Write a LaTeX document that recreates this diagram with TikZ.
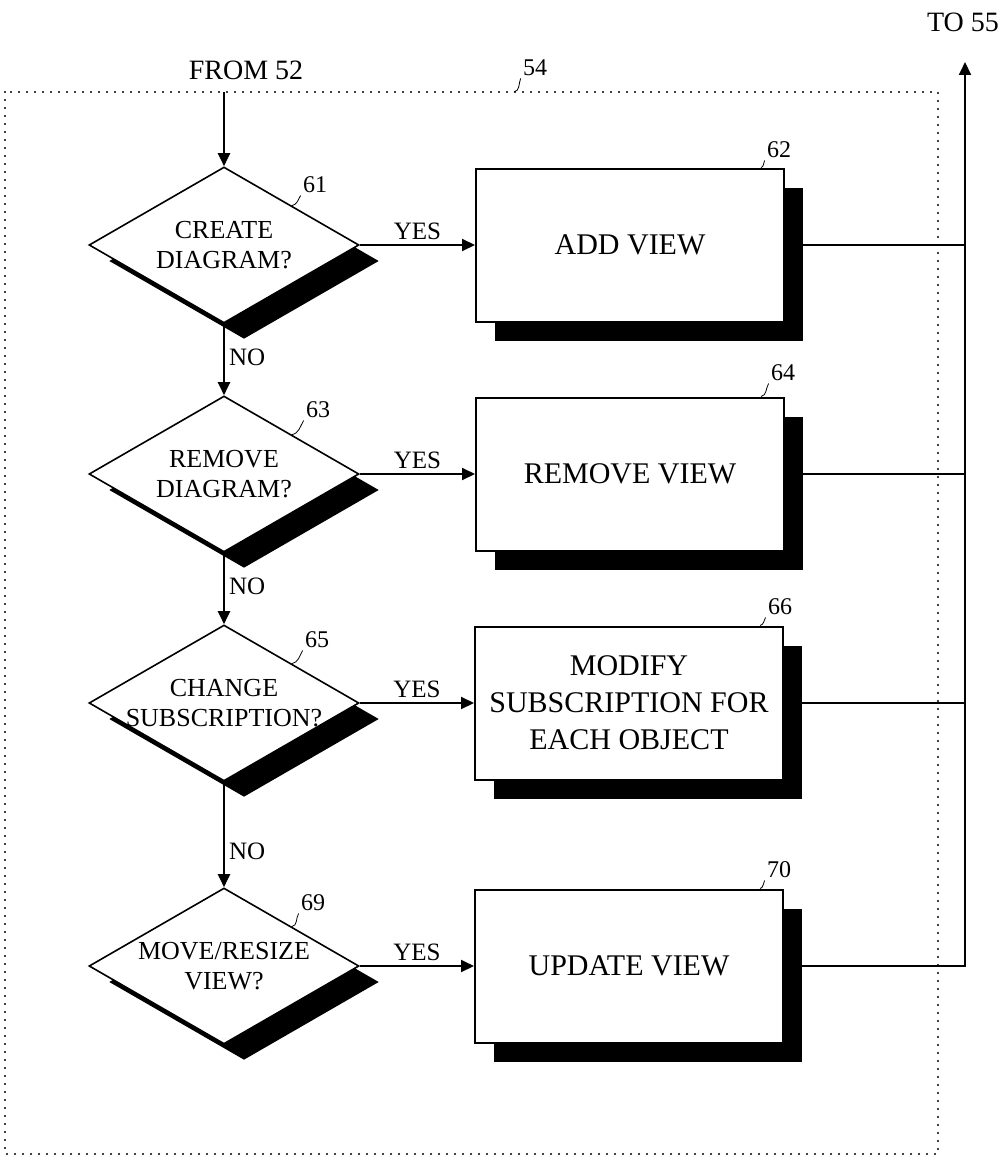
\documentclass[tikz,border=0pt]{standalone}
\usepackage{fontspec}
\setmainfont{Liberation Serif}
\usetikzlibrary{shapes.geometric,shadows,arrows.meta}

\begin{document}
\begin{tikzpicture}[x=0.5pt,y=-0.5pt,
  flow/.style={-{Triangle[length=6.5pt,width=6pt]},line width=1pt},
  wire/.style={line width=1pt},
  frame/.style={line width=1.2pt,line cap=round,dash pattern=on 0pt off 4pt},
  test/.style={diamond,draw=black,line width=0.8pt,fill=white,aspect=1.73,
    minimum width=135pt,minimum height=78pt,inner sep=0pt,align=center,
    font=\fontsize{13}{15}\selectfont,
    drop shadow={shadow xshift=10pt,shadow yshift=-8pt,fill=black,opacity=1}},
  task/.style={rectangle,draw=black,line width=1pt,fill=white,
    minimum width=154pt,minimum height=76.5pt,align=center,
    font=\fontsize{15}{18.5}\selectfont,
    drop shadow={shadow xshift=9.5pt,shadow yshift=-9.5pt,fill=black,opacity=1}},
  answer/.style={font=\fontsize{12.5}{14}\selectfont,inner sep=2pt},
  refnum/.style={font=\fontsize{12}{14}\selectfont,inner sep=1pt},
  endtext/.style={font=\fontsize{14}{16}\selectfont}]

\useasboundingbox (0,0) rectangle (1006,1161);
\draw[frame] (5,92) rectangle (938,1154);

\node[endtext] (from52) at (246,70) {FROM 52};
\node[endtext] (to55) at (963,22) {TO 55};
\coordinate (entry) at (224,92);
\coordinate (top) at (965,62);
\coordinate (c54) at (514,92);

\node[test] (d1) at (224,245) {CREATE\\DIAGRAM?};
\node[test] (d2) at (224,474) {REMOVE\\DIAGRAM?};
\node[test,inner xsep=-6pt] (d3) at (224,703) {CHANGE\\SUBSCRIPTION?};
\node[test] (d4) at (224,966) {MOVE/RESIZE\\VIEW?};

\node[task] (b1) at (630,245) {ADD VIEW};
\node[task] (b2) at (630,474) {REMOVE VIEW};
\node[task] (b3) at (629,703) {MODIFY\\SUBSCRIPTION FOR\\EACH OBJECT};
\node[task] (b4) at (629,966) {UPDATE VIEW};

\node[refnum] (l54) at (535,68) {54};
\node[refnum] (l61) at (315,185) {61};
\node[refnum] (l63) at (318,410) {63};
\node[refnum] (l65) at (317,640) {65};
\node[refnum] (l69) at (313,903) {69};
\node[refnum] (l62) at (779,150) {62};
\node[refnum] (l64) at (783,373) {64};
\node[refnum] (l66) at (780,607) {66};
\node[refnum] (l70) at (779,870) {70};

\draw (c54) to[out=10,in=-110] (l54.south west);
\draw (d1.north east) to[out=10,in=-120] (l61.south west);
\draw (d2.north east) to[out=10,in=-120] (l63.south west);
\draw (d3.north east) to[out=10,in=-120] (l65.south west);
\draw (d4.north east) to[out=10,in=-120] (l69.south west);
\draw ([xshift=-12pt]b1.north east) to[out=10,in=-120] (l62.south west);
\draw ([xshift=-12pt]b2.north east) to[out=10,in=-120] (l64.south west);
\draw ([xshift=-12pt]b3.north east) to[out=10,in=-120] (l66.south west);
\draw ([xshift=-12pt]b4.north east) to[out=10,in=-120] (l70.south west);

\draw[flow] (entry) -- (d1.north);
\draw[flow] (d1.south) -- node[answer,right,pos=0.47] (no1) {NO} (d2.north);
\draw[flow] (d2.south) -- node[answer,right,pos=0.47] (no2) {NO} (d3.north);
\draw[flow] (d3.south) -- node[answer,right,pos=0.66] (no3) {NO} (d4.north);

\draw[flow] (d1.east) -- node[answer,above] (yes1) {YES} (b1.west);
\draw[flow] (d2.east) -- node[answer,above] (yes2) {YES} (b2.west);
\draw[flow] (d3.east) -- node[answer,above] (yes3) {YES} (b3.west);
\draw[flow] (d4.east) -- node[answer,above] (yes4) {YES} (b4.west);

\draw[wire] (b1.east) -- (b1.east -| top);
\draw[wire] (b2.east) -- (b2.east -| top);
\draw[wire] (b3.east) -- (b3.east -| top);
\draw[flow] (b4.east) -- (b4.east -| top) -- (top);
\end{tikzpicture}
\end{document}
